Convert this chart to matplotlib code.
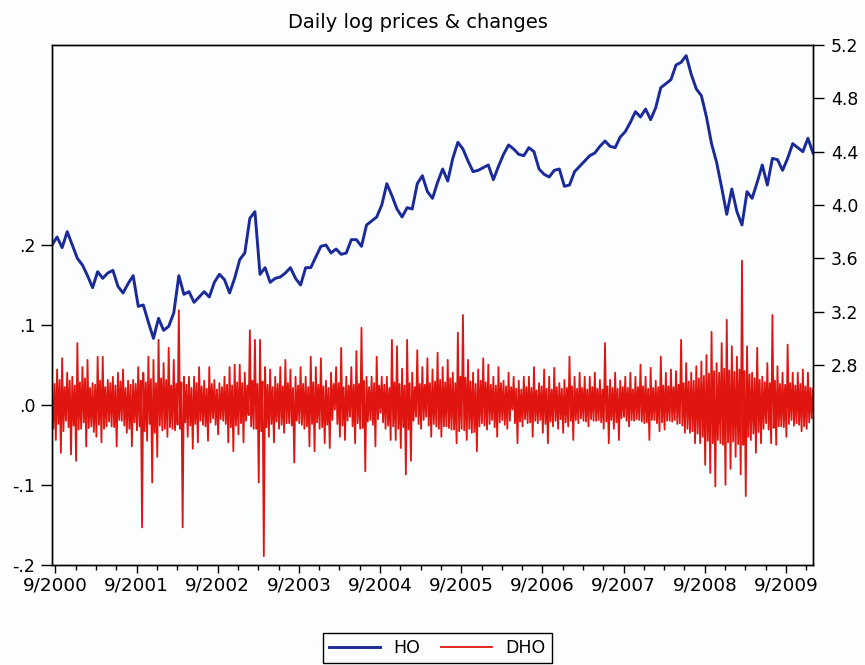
import numpy as np
import matplotlib
matplotlib.use("Agg")
import matplotlib.pyplot as plt
from matplotlib.ticker import FixedLocator, FuncFormatter

# Sampling of the two series (fractional years)
first_obs = 2000.625
ho_per_year = 16
dho_per_year = 64

# HO: log heating-oil price
ho = [
    3.70, 3.76, 3.68, 3.80, 3.70, 3.60, 3.55, 3.47, 3.38, 3.50,
    3.45, 3.49, 3.51, 3.39, 3.34, 3.41, 3.47, 3.24, 3.25, 3.12,
    3.00, 3.15, 3.06, 3.09, 3.19, 3.47, 3.33, 3.35, 3.27, 3.31,
    3.35, 3.31, 3.42, 3.48, 3.44, 3.34, 3.45, 3.59, 3.64, 3.90,
    3.95, 3.48, 3.53, 3.42, 3.45, 3.46, 3.49, 3.53, 3.45, 3.40,
    3.53, 3.53, 3.61, 3.69, 3.70, 3.64, 3.67, 3.63, 3.64, 3.74,
    3.74, 3.69, 3.85, 3.88, 3.91, 4.00, 4.16, 4.07, 3.97, 3.91,
    3.98, 3.97, 4.16, 4.22, 4.10, 4.05, 4.17, 4.27, 4.18, 4.35,
    4.47, 4.42, 4.33, 4.25, 4.26, 4.28, 4.30, 4.19, 4.29, 4.38,
    4.45, 4.42, 4.38, 4.37, 4.43, 4.40, 4.27, 4.23, 4.21, 4.26,
    4.27, 4.14, 4.15, 4.25, 4.29, 4.33, 4.37, 4.39, 4.44, 4.48,
    4.44, 4.43, 4.51, 4.55, 4.62, 4.70, 4.66, 4.72, 4.64, 4.73,
    4.88, 4.91, 4.94, 5.05, 5.07, 5.12, 4.98, 4.87, 4.82, 4.66,
    4.46, 4.32, 4.13, 3.93, 4.12, 3.95, 3.85, 4.10, 4.05, 4.17,
    4.30, 4.15, 4.35, 4.34, 4.26, 4.35, 4.46, 4.43, 4.40, 4.50,
    4.39,
]

# DHO: daily log change
dho = [
    0.020, -0.030, 0.026, -0.044, 0.044, -0.024, 0.031, -0.060,
    0.058, -0.033, 0.022, -0.020, 0.040, -0.028, 0.030, -0.062,
    0.035, -0.026, 0.024, -0.070, 0.077, -0.031, 0.028, -0.030,
    0.047, -0.022, 0.033, -0.052, 0.056, -0.029, 0.021, -0.027,
    0.027, -0.034, 0.025, -0.040, 0.060, -0.025, 0.030, -0.047,
    0.060, -0.030, 0.022, -0.027, 0.031, -0.021, 0.027, -0.027,
    0.035, -0.028, 0.024, -0.052, 0.040, -0.019, 0.029, -0.020,
    0.044, -0.026, 0.021, -0.035, 0.030, -0.030, 0.025, -0.052,
    0.031, -0.022, 0.026, -0.032, 0.047, -0.027, 0.030, -0.153,
    0.040, -0.033, 0.028, -0.045, 0.060, -0.024, 0.032, -0.097,
    0.056, -0.035, 0.027, -0.065, 0.081, -0.026, 0.033, -0.032,
    0.052, -0.030, 0.031, -0.040, 0.071, -0.028, 0.024, -0.030,
    0.056, -0.032, 0.026, -0.025, 0.118, -0.030, 0.028, -0.153,
    0.035, -0.022, 0.025, -0.040, 0.035, -0.026, 0.021, -0.055,
    0.035, -0.024, 0.027, -0.047, 0.047, -0.020, 0.023, -0.025,
    0.030, -0.027, 0.020, -0.045, 0.047, -0.022, 0.026, -0.017,
    0.031, -0.025, 0.019, -0.037, 0.027, -0.018, 0.022, -0.020,
    0.035, -0.024, 0.025, -0.047, 0.047, -0.028, 0.024, -0.058,
    0.050, -0.026, 0.028, -0.037, 0.050, -0.023, 0.027, -0.047,
    0.040, -0.020, 0.024, -0.013, 0.093, -0.027, 0.030, -0.030,
    0.081, -0.030, 0.026, -0.097, 0.081, -0.033, 0.029, -0.189,
    0.047, -0.028, 0.025, -0.040, 0.044, -0.024, 0.022, -0.047,
    0.035, -0.021, 0.026, -0.030, 0.047, -0.025, 0.023, -0.035,
    0.056, -0.023, 0.027, -0.023, 0.044, -0.026, 0.021, -0.072,
    0.035, -0.020, 0.024, -0.023, 0.047, -0.025, 0.026, -0.030,
    0.035, -0.027, 0.022, -0.052, 0.060, -0.024, 0.028, -0.058,
    0.047, -0.022, 0.025, -0.030, 0.058, -0.028, 0.023, -0.048,
    0.030, -0.025, 0.021, -0.054, 0.040, -0.019, 0.026, -0.006,
    0.047, -0.024, 0.027, -0.040, 0.071, -0.026, 0.022, -0.044,
    0.035, -0.020, 0.024, -0.015, 0.047, -0.027, 0.025, -0.048,
    0.067, -0.023, 0.026, -0.030, 0.096, -0.029, 0.030, -0.083,
    0.035, -0.021, 0.022, -0.019, 0.035, -0.025, 0.027, -0.052,
    0.060, -0.018, 0.024, -0.010, 0.035, -0.022, 0.025, -0.030,
    0.035, -0.026, 0.021, -0.044, 0.081, -0.027, 0.028, -0.044,
    0.073, -0.030, 0.026, -0.054, 0.045, -0.028, 0.024, -0.087,
    0.081, -0.031, 0.027, -0.070, 0.040, -0.020, 0.022, -0.015,
    0.068, -0.024, 0.026, -0.030, 0.047, -0.019, 0.025, -0.015,
    0.058, -0.026, 0.027, -0.040, 0.044, -0.024, 0.029, -0.027,
    0.065, -0.030, 0.031, -0.040, 0.047, -0.027, 0.028, -0.027,
    0.056, -0.029, 0.033, -0.031, 0.040, -0.031, 0.027, -0.048,
    0.090, -0.033, 0.035, -0.030, 0.112, -0.032, 0.034, -0.044,
    0.056, -0.030, 0.029, -0.035, 0.040, -0.034, 0.026, -0.058,
    0.044, -0.027, 0.030, -0.023, 0.058, -0.026, 0.028, -0.031,
    0.050, -0.024, 0.025, -0.019, 0.035, -0.028, 0.024, -0.040,
    0.047, -0.022, 0.027, -0.019, 0.030, -0.025, 0.023, -0.030,
    0.040, -0.020, 0.022, -0.006, 0.035, -0.023, 0.020, -0.048,
    0.030, -0.021, 0.019, -0.027, 0.035, -0.018, 0.022, -0.023,
    0.035, -0.022, 0.021, -0.040, 0.047, -0.020, 0.018, -0.023,
    0.027, -0.019, 0.023, -0.035, 0.044, -0.024, 0.020, -0.048,
    0.035, -0.021, 0.019, -0.027, 0.046, -0.020, 0.022, -0.030,
    0.027, -0.018, 0.020, -0.035, 0.031, -0.022, 0.021, -0.027,
    0.060, -0.020, 0.023, -0.044, 0.035, -0.019, 0.020, -0.023,
    0.040, -0.017, 0.021, -0.020, 0.035, -0.021, 0.019, -0.027,
    0.035, -0.018, 0.022, -0.020, 0.040, -0.020, 0.020, -0.019,
    0.031, -0.022, 0.019, -0.030, 0.077, -0.021, 0.023, -0.048,
    0.031, -0.019, 0.021, -0.030, 0.040, -0.022, 0.020, -0.044,
    0.030, -0.017, 0.022, -0.015, 0.035, -0.020, 0.021, -0.027,
    0.040, -0.019, 0.019, -0.020, 0.035, -0.018, 0.022, -0.019,
    0.050, -0.021, 0.023, -0.023, 0.035, -0.022, 0.020, -0.044,
    0.046, -0.019, 0.021, -0.019, 0.030, -0.023, 0.022, -0.033,
    0.060, -0.022, 0.024, -0.031, 0.040, -0.020, 0.023, -0.020,
    0.044, -0.021, 0.022, -0.019, 0.042, -0.024, 0.025, -0.023,
    0.081, -0.026, 0.027, -0.035, 0.052, -0.030, 0.029, -0.035,
    0.040, -0.033, 0.030, -0.048, 0.048, -0.036, 0.033, -0.048,
    0.054, -0.040, 0.036, -0.075, 0.062, -0.045, 0.039, -0.085,
    0.091, -0.048, 0.042, -0.102, 0.052, -0.044, 0.040, -0.048,
    0.077, -0.050, 0.045, -0.100, 0.106, -0.047, 0.043, -0.080,
    0.073, -0.046, 0.041, -0.065, 0.060, -0.049, 0.044, -0.087,
    0.180, -0.050, 0.042, -0.114, 0.073, -0.040, 0.038, -0.044,
    0.040, -0.036, 0.033, -0.060, 0.071, -0.034, 0.031, -0.048,
    0.035, -0.030, 0.028, -0.023, 0.052, -0.031, 0.027, -0.048,
    0.112, -0.029, 0.030, -0.050, 0.048, -0.027, 0.026, -0.027,
    0.040, -0.028, 0.025, -0.040, 0.075, -0.024, 0.027, -0.019,
    0.040, -0.026, 0.024, -0.023, 0.040, -0.025, 0.026, -0.033,
    0.044, -0.027, 0.023, -0.030, 0.040, -0.022, 0.021, -0.017,
    0.020,
]

tick_years = list(range(2000, 2010))
tick_labels = [f"9/{y}" for y in tick_years]
left_ticks = [-0.2, -0.1, 0.0, 0.1, 0.2]
right_ticks = [2.8, 3.2, 3.6, 4.0, 4.4, 4.8, 5.2]

t_ho = first_obs + np.arange(len(ho)) / ho_per_year
t_dho = first_obs + np.arange(len(dho)) / dho_per_year

bg = "#fbfdfe"
fig = plt.figure(figsize=(8.65, 6.65), dpi=100)
fig.patch.set_facecolor(bg)
ax = fig.add_axes([52 / 865, 1 - 565 / 665, 761 / 865, 520 / 665])
ax.set_facecolor(bg)
ax2 = ax.twinx()

line_dho, = ax.plot(t_dho, dho, color="#e01510", lw=1.3)
line_ho, = ax2.plot(t_ho, ho, color="#1a2a9a", lw=2.1)

ax.set_xlim(t_ho[0], t_ho[-1])
ax.set_ylim(-0.199, 0.449)
ax2.set_ylim(1.3, 5.2)

# September of each year as major ticks, quarters as minor ticks
ax.set_xticks([y + 8 / 12 for y in tick_years])
ax.set_xticklabels(tick_labels)
ax.xaxis.set_minor_locator(FixedLocator(
    [y + 8 / 12 + q * 0.25 for y in tick_years for q in (1, 2, 3)]))

ax.set_yticks(left_ticks)
ax.yaxis.set_major_formatter(FuncFormatter(lambda v, p: f"{v:.1f}".replace("0.", ".", 1)))
ax2.set_yticks(right_ticks)
ax2.yaxis.set_major_formatter(FuncFormatter(lambda v, p: f"{v:.1f}"))

ax.tick_params(axis="y", direction="out", length=8, width=1, labelsize=12.5, pad=4)
ax.tick_params(axis="x", which="major", direction="out", length=5.5, width=1,
               labelsize=13.2, pad=3)
ax.tick_params(axis="x", which="minor", direction="out", length=3.5, width=1)
ax2.tick_params(axis="y", direction="out", length=8, width=1, labelsize=12.5, pad=5)

for a in (ax, ax2):
    for s in a.spines.values():
        s.set_linewidth(1.0)
        s.set_color("black")

fig.text(417.5 / 865, 1 - 22 / 665, "Daily log prices & changes",
         ha="center", va="center", fontsize=14)

leg = fig.legend([line_ho, line_dho], ["HO", "DHO"], loc="upper center",
                 bbox_to_anchor=(437.5 / 865, 1 - 633 / 665), borderaxespad=0,
                 ncol=2, frameon=True, fancybox=False, edgecolor="black",
                 facecolor=bg, framealpha=1, fontsize=12.5, handlelength=2.9,
                 columnspacing=1.2, borderpad=0.35)
leg.get_frame().set_linewidth(1.0)

fig.savefig("out.png", dpi=100, facecolor=bg)
